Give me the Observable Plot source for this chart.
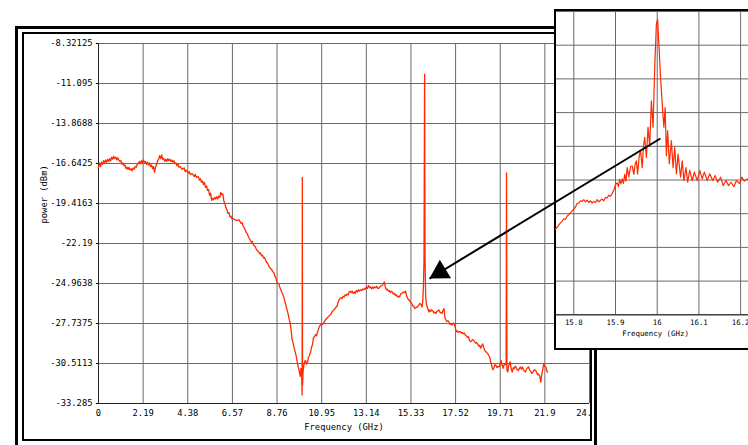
<!DOCTYPE html>
<html>
<head>
<meta charset="utf-8">
<script src="https://cdn.jsdelivr.net/npm/d3@7"></script>
<script src="https://cdn.jsdelivr.net/npm/@observablehq/plot@0.6"></script>
<style>
  html, body { margin: 0; padding: 0; background: #fff; overflow: hidden; }
  #root { position: relative; width: 748px; height: 445px; overflow: hidden; background: #fff; }
  #outerFrame { position: absolute; left: 15px; top: 26px; width: 576px; height: 440px; border: 3px solid #000; }
  #innerFrame { position: absolute; left: 22px; top: 32px; width: 566px; height: 405px; border: 2px solid #000; overflow: hidden; background: #fff; }
  #mainHolder { position: absolute; left: -24px; top: -34px; }
  #insetBox { position: absolute; left: 554px; top: 9px; width: 220px; height: 337px; border: 2px solid #000; background: #fff; }
  #insetHolder { position: absolute; left: 0; top: 0; }
  #overlay { position: absolute; left: 0; top: 0; pointer-events: none; }
</style>
</head>
<body>
<div id="root">
  <div id="outerFrame"></div>
  <div id="innerFrame"><div id="mainHolder"></div></div>
  <div id="insetBox"><div id="insetHolder"></div></div>
  <div id="overlay"></div>
</div>
<script>
// ---------- data ----------
const xTicks = [0, 2.19, 4.38, 6.57, 8.76, 10.95, 13.14, 15.33, 17.52, 19.71, 21.9, 24.09];
const yTicks = [-33.285, -30.5113, -27.7375, -24.9638, -22.19, -19.4163, -16.6425, -13.8688, -11.095, -8.32125];
const xLabel = "Frequency (GHz)";
const yLabel = "power (dBm)";

// main spectrum: [frequency GHz, power dBm]
const mainSpectrum = [
[0.00,-16.95],[0.05,-16.6],[0.10,-16.85],[0.15,-16.55],[0.20,-16.7],[0.25,-16.45],[0.30,-16.6],[0.35,-16.4],[0.40,-16.55],[0.45,-16.35],
[0.50,-16.5],[0.55,-16.3],[0.60,-16.45],[0.65,-16.2],[0.70,-16.35],[0.75,-16.15],[0.80,-16.3],[0.85,-16.2],[0.90,-16.4],[0.95,-16.25],
[1.00,-16.4],[1.05,-16.5],[1.10,-16.45],[1.15,-16.7],[1.20,-16.6],[1.25,-16.8],[1.30,-16.75],[1.35,-17.0],[1.40,-16.9],[1.45,-17.05],
[1.50,-16.9],[1.55,-17.1],[1.60,-17.0],[1.65,-17.15],[1.70,-16.95],[1.75,-17.05],[1.80,-16.85],[1.85,-16.9],[1.90,-16.7],[1.95,-16.65],
[2.00,-16.5],[2.05,-16.65],[2.10,-16.45],[2.15,-16.6],[2.20,-16.4],[2.25,-16.55],[2.30,-16.5],[2.35,-16.7],[2.40,-16.55],[2.45,-16.75],
[2.50,-16.6],[2.55,-16.85],[2.60,-16.75],[2.65,-17.0],[2.70,-16.85],[2.75,-17.25],[2.80,-16.9],[2.85,-16.7],[2.90,-16.45],[2.95,-16.35],
[3.00,-16.1],[3.05,-16.3],[3.10,-16.05],[3.15,-16.35],[3.20,-16.3],[3.25,-16.5],[3.30,-16.35],[3.35,-16.5],[3.40,-16.3],[3.45,-16.45],
[3.50,-16.35],[3.55,-16.5],[3.60,-16.4],[3.65,-16.55],[3.70,-16.45],[3.75,-16.65],[3.80,-16.6],[3.85,-16.8],[3.90,-16.7],[3.95,-16.9],
[4.00,-16.85],[4.10,-17.05],[4.20,-16.95],[4.25,-17.2],[4.30,-17.1],[4.40,-17.3],[4.45,-17.2],[4.50,-17.4],[4.60,-17.35],[4.70,-17.55],
[4.75,-17.4],[4.80,-17.6],[4.90,-17.55],[4.95,-17.8],[5.00,-17.7],[5.05,-17.95],[5.10,-17.85],[5.15,-18.1],[5.20,-17.95],[5.25,-18.3],
[5.30,-18.2],[5.35,-18.5],[5.40,-18.45],[5.45,-18.85],[5.50,-18.7],[5.55,-19.2],[5.60,-19.05],[5.65,-19.15],[5.70,-19.0],[5.75,-19.1],
[5.80,-18.95],[5.85,-19.1],[5.90,-18.9],[5.95,-19.0],[6.00,-18.65],[6.05,-18.8],[6.10,-18.75],[6.15,-19.25],[6.20,-19.4],[6.25,-19.7],
[6.30,-19.85],[6.35,-20.1],[6.40,-20.05],[6.45,-20.35],[6.50,-20.3],[6.55,-20.5],[6.60,-20.45],[6.70,-20.55],[6.80,-20.6],[6.90,-20.55],
[7.00,-20.8],[7.05,-20.75],[7.10,-21.0],[7.15,-21.1],[7.20,-21.25],[7.25,-21.45],[7.30,-21.5],[7.35,-21.7],[7.40,-21.85],[7.45,-21.95],
[7.50,-22.1],[7.55,-22.05],[7.60,-22.3],[7.65,-22.35],[7.70,-22.45],[7.75,-22.6],[7.80,-22.7],[7.85,-22.75],[7.90,-22.9],[7.95,-22.85],
[8.00,-23.05],[8.05,-23.0],[8.10,-23.2],[8.15,-23.15],[8.20,-23.35],[8.25,-23.5],[8.30,-23.55],[8.35,-23.75],[8.40,-23.85],[8.45,-23.95],
[8.50,-24.0],[8.55,-24.15],[8.60,-24.2],[8.65,-24.45],[8.70,-24.55],[8.75,-24.85],[8.80,-24.95],[8.85,-25.0],[8.90,-25.25],[8.95,-25.4],
[9.00,-25.6],[9.05,-25.75],[9.10,-25.95],[9.15,-26.25],[9.20,-26.5],[9.25,-26.8],[9.30,-27.05],[9.35,-27.4],[9.40,-27.7],[9.45,-28.2],
[9.50,-28.85],[9.55,-29.1],[9.60,-29.45],[9.65,-29.7],[9.70,-30.0],[9.75,-30.4],[9.80,-30.75],[9.85,-31.05],[9.90,-31.4],[9.93,-30.85],
[9.97,-31.3],[9.99,-32.7],[10.00,-17.6],[10.01,-32.0],[10.04,-31.0],[10.08,-30.6],[10.12,-30.35],[10.16,-30.3],[10.20,-30.55],[10.25,-30.45],
[10.30,-30.1],[10.35,-29.95],[10.40,-29.75],[10.45,-29.4],[10.50,-29.2],[10.55,-28.7],[10.60,-28.65],[10.65,-28.5],[10.70,-28.6],[10.75,-28.3],
[10.80,-28.1],[10.85,-27.9],[10.90,-27.85],[10.95,-27.75],[11.00,-27.8],[11.05,-27.7],[11.10,-27.55],[11.15,-27.45],[11.20,-27.4],[11.25,-27.3],
[11.30,-27.25],[11.35,-27.15],[11.40,-27.1],[11.45,-26.95],[11.50,-26.85],[11.55,-26.8],[11.60,-26.7],[11.65,-26.6],[11.70,-26.55],[11.75,-26.3],
[11.80,-26.1],[11.85,-26.0],[11.90,-25.95],[11.95,-26.0],[12.00,-25.85],[12.05,-25.9],[12.10,-25.75],[12.15,-25.8],[12.20,-25.7],[12.25,-25.75],
[12.30,-25.55],[12.35,-25.5],[12.40,-25.6],[12.45,-25.5],[12.50,-25.65],[12.55,-25.55],[12.60,-25.65],[12.65,-25.45],[12.70,-25.55],[12.75,-25.4],
[12.80,-25.5],[12.85,-25.4],[12.90,-25.45],[12.95,-25.35],[13.00,-25.4],[13.05,-25.3],[13.10,-25.35],[13.15,-25.2],[13.20,-25.3],[13.25,-25.1],
[13.30,-25.25],[13.35,-25.2],[13.40,-25.35],[13.45,-25.2],[13.50,-25.3],[13.55,-25.2],[13.60,-25.25],[13.65,-25.15],[13.70,-25.3],[13.75,-25.3],
[13.80,-25.2],[13.85,-25.15],[13.90,-25.1],[13.95,-25.05],[14.00,-24.9],[14.03,-24.85],[14.07,-25.2],[14.12,-25.4],[14.17,-25.35],[14.22,-25.5],
[14.27,-25.45],[14.32,-25.6],[14.37,-25.5],[14.42,-25.55],[14.47,-25.7],[14.52,-25.65],[14.57,-25.8],[14.62,-25.75],[14.67,-25.9],[14.72,-25.85],
[14.77,-25.9],[14.82,-25.7],[14.87,-25.65],[14.92,-25.6],[14.97,-25.55],[15.02,-25.6],[15.07,-25.5],[15.12,-25.85],[15.17,-26.0],[15.22,-26.1],
[15.27,-26.15],[15.32,-26.3],[15.37,-26.35],[15.42,-26.5],[15.47,-26.55],[15.52,-26.7],[15.57,-26.65],[15.62,-26.6],[15.67,-26.55],[15.72,-26.45],
[15.77,-26.35],[15.82,-26.4],[15.87,-26.6],[15.91,-26.2],[15.94,-25.2],[15.97,-23.4],[16.00,-10.45],[16.02,-23.0],[16.05,-25.9],[16.09,-26.4],
[16.13,-26.6],[16.17,-26.75],[16.21,-26.95],[16.25,-26.8],[16.30,-26.9],[16.35,-26.8],[16.40,-26.85],[16.45,-27.0],[16.50,-26.95],[16.55,-27.05],
[16.60,-26.9],[16.65,-26.85],[16.70,-26.8],[16.75,-26.95],[16.80,-27.0],[16.85,-27.05],[16.90,-26.85],[16.95,-26.7],[17.00,-27.35],[17.05,-27.5],
[17.10,-27.6],[17.15,-27.55],[17.20,-27.65],[17.25,-27.8],[17.30,-27.75],[17.35,-27.85],[17.40,-27.7],[17.45,-27.75],[17.50,-28.0],[17.55,-28.3],
[17.60,-28.25],[17.65,-28.35],[17.70,-28.3],[17.75,-28.3],[17.80,-28.4],[17.85,-28.35],[17.90,-28.45],[17.95,-28.4],[18.00,-28.55],[18.05,-28.6],
[18.10,-28.7],[18.15,-28.65],[18.20,-28.9],[18.25,-29.0],[18.30,-28.95],[18.35,-28.85],[18.40,-28.9],[18.45,-29.0],[18.50,-29.1],[18.55,-29.05],
[18.60,-29.15],[18.65,-29.3],[18.70,-29.25],[18.75,-29.45],[18.80,-29.3],[18.85,-29.15],[18.90,-29.4],[18.95,-29.6],[19.00,-29.7],[19.05,-29.75],
[19.10,-29.85],[19.15,-29.95],[19.20,-30.1],[19.25,-30.45],[19.30,-30.7],[19.35,-30.95],[19.40,-30.8],[19.45,-30.6],[19.50,-30.65],[19.55,-30.8],
[19.60,-30.7],[19.65,-30.75],[19.70,-30.6],[19.75,-30.3],[19.80,-30.6],[19.85,-30.85],[19.90,-30.6],[19.95,-30.5],[20.00,-30.6],[20.02,-17.3],
[20.04,-31.0],[20.08,-31.1],[20.12,-30.7],[20.16,-30.5],[20.20,-30.4],[20.25,-30.9],[20.30,-31.1],[20.35,-30.8],[20.40,-30.85],[20.45,-30.7],
[20.50,-30.8],[20.55,-30.95],[20.60,-31.0],[20.65,-30.85],[20.70,-30.75],[20.75,-30.9],[20.80,-30.75],[20.85,-30.95],[20.90,-31.05],[20.95,-31.1],
[21.00,-30.9],[21.05,-30.8],[21.10,-30.75],[21.15,-30.95],[21.20,-31.05],[21.25,-31.2],[21.30,-31.15],[21.35,-31.0],[21.40,-30.95],[21.45,-31.0],
[21.50,-31.15],[21.55,-31.3],[21.60,-31.25],[21.65,-31.4],[21.70,-31.8],[21.75,-31.25],[21.80,-30.9],[21.85,-30.5],[21.90,-30.7],[21.95,-30.75],
[22.00,-31.05],[22.03,-31.1]
];

// inset (zoom around 16 GHz)
const insetXTicks = [15.8, 15.9, 16, 16.1, 16.2];
const insetYTicks = [-36, -33, -30, -27, -24, -21, -18, -15, -12, -9];
const insetSpectrum = [
[15.756,-28.4],[15.762,-28.1],[15.766,-27.9],[15.771,-27.7],[15.776,-27.45],[15.780,-27.5],[15.784,-27.2],[15.788,-27.1],[15.792,-26.9],
[15.796,-26.75],[15.800,-26.6],[15.804,-26.4],[15.808,-26.1],[15.812,-26.05],[15.816,-25.85],[15.820,-25.9],[15.824,-25.75],[15.828,-25.95],
[15.832,-25.8],[15.836,-26.0],[15.840,-25.85],[15.844,-26.05],[15.848,-25.9],[15.852,-26.0],[15.856,-25.75],[15.860,-25.95],[15.864,-25.8],
[15.868,-25.7],[15.872,-25.85],[15.876,-25.55],[15.880,-25.6],[15.884,-25.35],[15.888,-25.45],[15.892,-25.2],[15.896,-24.9],[15.900,-24.4],
[15.904,-24.25],[15.907,-24.6],[15.910,-23.95],[15.913,-24.35],[15.916,-23.9],[15.919,-24.3],[15.922,-23.5],[15.925,-24.1],[15.928,-22.9],
[15.932,-23.75],[15.936,-22.8],[15.940,-22.75],[15.944,-23.5],[15.947,-22.6],[15.950,-22.3],[15.953,-23.45],[15.957,-21.8],[15.960,-21.4],
[15.964,-22.9],[15.967,-21.0],[15.970,-20.2],[15.974,-22.0],[15.978,-19.3],[15.982,-21.0],[15.986,-16.95],[15.990,-19.3],[15.994,-14.0],
[15.998,-10.1],[16.001,-9.7],[16.004,-11.9],[16.008,-14.85],[16.013,-17.8],[16.016,-19.3],[16.019,-17.55],[16.022,-21.85],[16.025,-19.6],
[16.029,-22.55],[16.034,-20.5],[16.038,-22.9],[16.042,-21.1],[16.046,-23.45],[16.050,-21.7],[16.056,-23.75],[16.060,-22.3],[16.064,-24.05],
[16.069,-22.9],[16.073,-24.2],[16.078,-23.15],[16.084,-24.05],[16.089,-23.3],[16.096,-24.05],[16.102,-23.15],[16.108,-23.9],[16.113,-23.3],
[16.120,-24.05],[16.126,-23.45],[16.133,-24.05],[16.139,-23.6],[16.145,-24.2],[16.152,-23.75],[16.158,-24.5],[16.165,-24.05],[16.171,-24.5],
[16.177,-24.2],[16.184,-24.6],[16.190,-24.05],[16.197,-24.3],[16.203,-23.75],[16.209,-24.1],[16.216,-23.9],[16.222,-24.2],[16.229,-23.95],[16.234,-24.1]
];

// arrow annotation (main chart data units): tail inside the inset, tip at the 16 GHz line
const arrowTail = [27.57, -14.91];
const arrowTip = [16.24, -24.62];

// ---------- drawing ----------
const red = "#ff2a00";
const gridColor = "#6a6a6a";
const mono = "'DejaVu Sans Mono', 'Liberation Mono', monospace";

const mainChart = Plot.plot({
  width: 748, height: 445,
  marginLeft: 98, marginRight: 159, marginTop: 43, marginBottom: 42,
  style: {background: "transparent", maxWidth: "none", overflow: "visible", fontFamily: mono, fontSize: "8.8px", color: "#000"},
  x: {domain: [xTicks[0], xTicks[xTicks.length - 1]], ticks: xTicks, tickFormat: d => String(d), tickSize: 0, tickPadding: 6, label: null},
  y: {domain: [yTicks[0], yTicks[yTicks.length - 1]], ticks: yTicks, tickFormat: d => String(d), tickSize: 2, tickPadding: 4, label: null},
  marks: [
    Plot.ruleX(xTicks, {stroke: gridColor, strokeWidth: 1}),
    Plot.ruleY(yTicks, {stroke: gridColor, strokeWidth: 1}),
    Plot.ruleX([xTicks[0]], {stroke: "#222"}),
    Plot.ruleY([yTicks[0]], {stroke: "#222"}),
    Plot.line(mainSpectrum, {x: d => d[0], y: d => d[1], stroke: red, strokeWidth: 1.3}),
    Plot.text([xLabel], {frameAnchor: "bottom", dy: 26, text: d => d, fill: "#000"}),
    Plot.text([yLabel], {frameAnchor: "left", dx: -54, rotate: -90, text: d => d, fill: "#000"})
  ]
});
document.getElementById("mainHolder").appendChild(mainChart);

const insetChart = Plot.plot({
  width: 208, height: 337,
  marginLeft: 0, marginRight: 10, marginTop: 0, marginBottom: 33.7,
  style: {background: "transparent", maxWidth: "none", overflow: "visible", fontFamily: mono, fontSize: "7.4px", color: "#000"},
  x: {domain: [15.7585, 16.2333], ticks: insetXTicks, tickFormat: d => String(d), tickSize: 0, tickPadding: 5, label: null},
  y: {domain: [insetYTicks[0], insetYTicks[insetYTicks.length - 1]], axis: null},
  marks: [
    Plot.ruleX(insetXTicks, {stroke: gridColor, strokeWidth: 1}),
    Plot.ruleY(insetYTicks, {stroke: gridColor, strokeWidth: 1}),
    Plot.ruleY([insetYTicks[0]], {stroke: "#222"}),
    Plot.line(insetSpectrum, {x: d => d[0], y: d => d[1], stroke: red, strokeWidth: 1.2}),
    Plot.text([xLabel], {frameAnchor: "bottom", dy: 21, text: d => d, fill: "#000"})
  ]
});
document.getElementById("insetHolder").appendChild(insetChart);

const overlay = Plot.plot({
  width: 748, height: 445,
  marginLeft: 98, marginRight: 159, marginTop: 43, marginBottom: 42,
  style: {background: "transparent", maxWidth: "none", overflow: "visible"},
  x: {domain: [xTicks[0], xTicks[xTicks.length - 1]], axis: null},
  y: {domain: [yTicks[0], yTicks[yTicks.length - 1]], axis: null},
  marks: [
    Plot.link([{a: arrowTail, b: arrowTip}], {x1: d => d.a[0], y1: d => d.a[1], x2: d => d.b[0], y2: d => d.b[1], stroke: "#000", strokeWidth: 2}),
    Plot.dot([arrowTip], {x: d => d[0], y: d => d[1], symbol: "triangle", r: 8, fill: "#000", stroke: "none", rotate: 238.8, dx: 10.6, dy: -6.4})
  ]
});
document.getElementById("overlay").appendChild(overlay);
</script>
</body>
</html>
